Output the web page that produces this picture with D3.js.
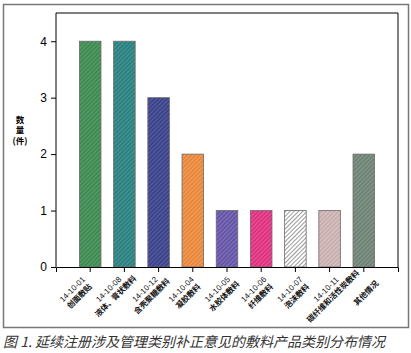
<!DOCTYPE html>
<html>
<head>
<meta charset="utf-8">
<script src="https://cdn.jsdelivr.net/npm/d3@7"></script>
<style>
  body { margin: 0; background: #fff; }
  svg { display: block; }
</style>
</head>
<body>
<svg id="chart" width="411" height="353"></svg>
<script>
const codes = ['14-10-01', '14-10-08', '14-10-12', '14-10-04', '14-10-05', '14-10-06', '14-10-07', '14-10-11', '']
const names = ['创面敷贴', '液体、膏状敷料', '含壳聚糖敷料', '凝胶敷料', '水胶体敷料', '纤维敷料', '泡沫敷料', '碳纤维和活性炭敷料', '其他情况']
const counts = [4, 4, 3, 2, 1, 1, 1, 1, 2]
const yTicks = [0, 1, 2, 3, 4]

const fills = ['#3f8a52', '#2d8080', '#3c4389', '#e8863c', '#6654a6', '#de3080', '#ffffff', '#c8aeae', '#6f8375']
const stripes = ['#5fa070', '#4a9a98', '#5a62a6', '#f3a463', '#8677bf', '#ec5b9a', '#9a9a9a', '#ddc8c8', '#8a9c8f']

const plot = { left: 56, right: 398, top: 13, bottom: 267 }
const svg = d3.select('#chart')

// outer grey frame
svg.append('rect')
    .attr('x', 3.5).attr('y', 4.5)
    .attr('width', 405).attr('height', 323)
    .attr('fill', 'none').attr('stroke', '#777').attr('stroke-width', 1.5)

// hatch patterns
const defs = svg.append('defs')
fills.forEach((c, i) => {
    const p = defs.append('pattern')
        .attr('id', 'hatch' + i)
        .attr('patternUnits', 'userSpaceOnUse')
        .attr('width', 3).attr('height', 3)
        .attr('patternTransform', 'rotate(45)')
    p.append('rect').attr('width', 3).attr('height', 3).attr('fill', c)
    p.append('line')
        .attr('x1', 0.5).attr('y1', 0).attr('x2', 0.5).attr('y2', 3)
        .attr('stroke', stripes[i]).attr('stroke-width', i === 6 ? 1 : 0.9)
})

const x = d3.scaleBand()
    .domain(d3.range(counts.length))
    .range([plot.left, plot.right])
    .paddingInner(0.37)
    .paddingOuter(0.685)

// labels sit on a slightly wider spacing than the bars
const xLab = d3.scalePoint()
    .domain(d3.range(counts.length))
    .range([76, 366])

const y = d3.scaleLinear()
    .domain([0, 4.5])
    .range([plot.bottom, plot.top])

// bars
svg.append('g')
    .selectAll('rect')
    .data(counts)
    .enter()
    .append('rect')
    .attr('x', (d, i) => x(i))
    .attr('y', d => y(d))
    .attr('width', x.bandwidth())
    .attr('height', d => y(0) - y(d))
    .attr('fill', (d, i) => 'url(#hatch' + i + ')')
    .attr('stroke', '#6a6a6a')
    .attr('stroke-width', 0.8)

// frame lines (left, top, right)
svg.append('path')
    .attr('d', `M${plot.left},${plot.bottom}V${plot.top}H${plot.right}V${plot.bottom}`)
    .attr('fill', 'none').attr('stroke', '#000').attr('stroke-width', 1)

// y axis
const yAxis = svg.append('g')
    .attr('transform', `translate(${plot.left},0)`)
    .call(d3.axisLeft(y).tickValues(yTicks).tickSize(5).tickPadding(4).tickFormat(d3.format('d')))
yAxis.select('.domain').remove()
yAxis.selectAll('text').attr('font-family', 'Liberation Sans, Arial, sans-serif').attr('font-size', 12).attr('fill', '#000')

// x axis
const xAxis = svg.append('g')
    .attr('transform', `translate(0,${plot.bottom})`)
    .call(d3.axisBottom(x).tickSize(5).tickSizeOuter(5).tickFormat(''))
xAxis.select('.domain').attr('stroke', '#000')

// x labels, rotated, each line centred
const lab = svg.append('g')
    .selectAll('text')
    .data(names)
    .enter()
    .append('text')
    .attr('transform', (d, i) => `translate(${xLab(i)},${plot.bottom + 26}) rotate(-45)`)
    .attr('text-anchor', 'middle')
    .attr('font-family', 'Liberation Sans, Arial, sans-serif')
    .attr('font-size', 8)
    .attr('fill', '#111')
lab.each(function (d, i) {
    const t = d3.select(this)
    if (codes[i]) {
        t.append('tspan').attr('x', 0).attr('y', -2.5).text(codes[i])
        t.append('tspan').attr('x', 0).attr('y', 7.5)
            .attr('font-family', 'Noto Sans CJK SC, sans-serif').attr('font-weight', 'bold').attr('font-size', 7.8)
            .text(d)
    } else {
        t.append('tspan').attr('x', 0).attr('y', 2.8)
            .attr('font-family', 'Noto Sans CJK SC, sans-serif').attr('font-weight', 'bold').attr('font-size', 7.8)
            .text(d)
    }
})

// y title, stacked
const yTitle = ['数', '量', '(件)']
svg.append('g')
    .selectAll('text')
    .data(yTitle)
    .enter()
    .append('text')
    .attr('x', 20)
    .attr('y', (d, i) => 122.5 + i * 10.5)
    .attr('text-anchor', 'middle')
    .attr('font-family', 'Noto Sans CJK SC, sans-serif')
    .attr('font-weight', 'bold')
    .attr('font-size', 8.5)
    .text(d => d)

// caption
svg.append('text')
    .attr('x', 3)
    .attr('y', 347)
    .attr('font-family', 'Noto Sans CJK SC, sans-serif')
    .attr('font-size', 14)
    .attr('font-style', 'italic')
    .attr('fill', '#333')
    .text('图 1. 延续注册涉及管理类别补正意见的敷料产品类别分布情况')
</script>
</body>
</html>
